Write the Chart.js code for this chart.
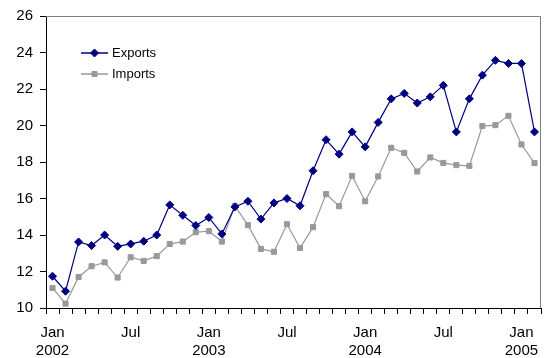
<!DOCTYPE html>
<html>
<head>
<meta charset="utf-8">
<script src="https://cdn.jsdelivr.net/npm/chart.js@4/dist/chart.umd.min.js"></script>
<style>
  html, body { margin: 0; padding: 0; background: #fff; }
  #wrap { width: 547px; height: 358px; position: relative; }
</style>
</head>
<body>
<div id="wrap"><canvas id="chart"></canvas></div>
<script>
const years = [2002, 2003, 2004, 2005];
const monthNames = ['Jan', 'Feb', 'Mar', 'Apr', 'May', 'Jun', 'Jul', 'Aug', 'Sep', 'Oct', 'Nov', 'Dec'];

// Jan 2002 .. Feb 2005
const months = [];
years.forEach(y => monthNames.forEach(m => months.push(m + ' ' + y)));
months.length = 38;

const exportsData = [
    11.74, 10.92, 13.62, 13.42, 14.0, 13.38, 13.51, 13.66, 14.0, 15.65, 15.08, 14.52,
    14.96, 14.06, 15.54, 15.85, 14.87, 15.76, 16.0, 15.6, 17.52, 19.22, 18.43, 19.65,
    18.83, 20.17, 21.46, 21.76, 21.23, 21.57, 22.2, 19.65, 21.46, 22.76, 23.57, 23.4,
    23.4, 19.65
];
const importsData = [
    11.1, 10.24, 11.7, 12.29, 12.5, 11.67, 12.78, 12.58, 12.84, 13.51, 13.64, 14.15,
    14.21, 13.64, 15.6, 14.54, 13.24, 13.08, 14.59, 13.29, 14.43, 16.24, 15.58, 17.24,
    15.85, 17.21, 18.78, 18.5, 17.48, 18.25, 17.95, 17.83, 17.79, 19.97, 20.02, 20.53,
    18.96, 17.94
];

const yTicks = { min: 10, max: 26, step: 2 };
const font = "'Liberation Sans', Arial, sans-serif";

const legendBox = {
    id: 'legendBox',
    afterDraw(chart) {
        const ctx = chart.ctx;
        const a = chart.chartArea;
        ctx.save();
        // grey frame on top and right
        ctx.strokeStyle = '#808080';
        ctx.lineWidth = 1;
        ctx.beginPath();
        ctx.moveTo(a.left, a.top + 0.5);
        ctx.lineTo(a.right - 0.5, a.top + 0.5);
        ctx.lineTo(a.right - 0.5, a.bottom);
        ctx.stroke();

        chart.data.datasets.forEach((ds, i) => {
            const y = a.top + 37 + i * 21;
            const x0 = a.left + 35;
            ctx.strokeStyle = ds.borderColor;
            ctx.lineWidth = ds.borderWidth + 0.3;
            ctx.beginPath();
            ctx.moveTo(x0, y);
            ctx.lineTo(x0 + 27, y);
            ctx.stroke();
            ctx.fillStyle = ds.pointBackgroundColor;
            ctx.strokeStyle = ds.pointBorderColor;
            ctx.lineWidth = 1;
            Chart.helpers.drawPoint(ctx, {
                pointStyle: ds.pointStyle,
                radius: ds.pointRadius,
                borderWidth: 1
            }, x0 + 13.5, y);
            ctx.fillStyle = '#000';
            ctx.font = '13px ' + font;
            ctx.textBaseline = 'middle';
            ctx.fillText(ds.label, x0 + 31, y);
        });
        ctx.restore();
    }
};

Chart.defaults.font.family = font;
Chart.defaults.color = '#000';

new Chart(document.getElementById('chart'), {
    type: 'line',
    data: {
        labels: months,
        datasets: [
            {
                label: 'Exports',
                data: exportsData,
                borderColor: '#000080',
                backgroundColor: '#000080',
                pointBackgroundColor: '#000080',
                pointBorderColor: '#000080',
                borderWidth: 1.2,
                pointStyle: 'rectRot',
                pointRadius: 4,
                pointBorderWidth: 1,
                tension: 0
            },
            {
                label: 'Imports',
                data: importsData,
                borderColor: '#999999',
                backgroundColor: '#999999',
                pointBackgroundColor: '#999999',
                pointBorderColor: '#999999',
                borderWidth: 1.2,
                pointStyle: 'rect',
                pointRadius: 3.6,
                pointBorderWidth: 1,
                tension: 0
            }
        ]
    },
    options: {
        responsive: true,
        maintainAspectRatio: false,
        animation: false,
        layout: { padding: { top: 15, right: 6, left: 0, bottom: 0 } },
        plugins: {
            legend: { display: false },
            tooltip: { enabled: false }
        },
        scales: {
            x: {
                offset: true,
                grid: {
                    offset: true,
                    drawOnChartArea: false,
                    drawTicks: true,
                    tickLength: 6,
                    color: '#000'
                },
                border: { color: '#000', width: 1 },
                ticks: {
                    autoSkip: false,
                    maxRotation: 0,
                    padding: 10,
                    font: { size: 15 },
                    callback: function (v, i) {
                        if (i % 6 !== 0) return '';
                        const p = months[i].split(' ');
                        return p[0] === 'Jan' ? [p[0], p[1]] : [p[0], ''];
                    }
                },
                afterFit: s => { s.height = 50; }
            },
            y: {
                min: yTicks.min,
                max: yTicks.max,
                grid: {
                    drawOnChartArea: false,
                    drawTicks: true,
                    tickLength: 6,
                    color: '#000'
                },
                border: { color: '#000', width: 1 },
                ticks: {
                    stepSize: yTicks.step,
                    padding: 7,
                    font: { size: 15 }
                },
                afterFit: s => { s.width = 46; }
            }
        }
    },
    plugins: [legendBox]
});
</script>
</body>
</html>
